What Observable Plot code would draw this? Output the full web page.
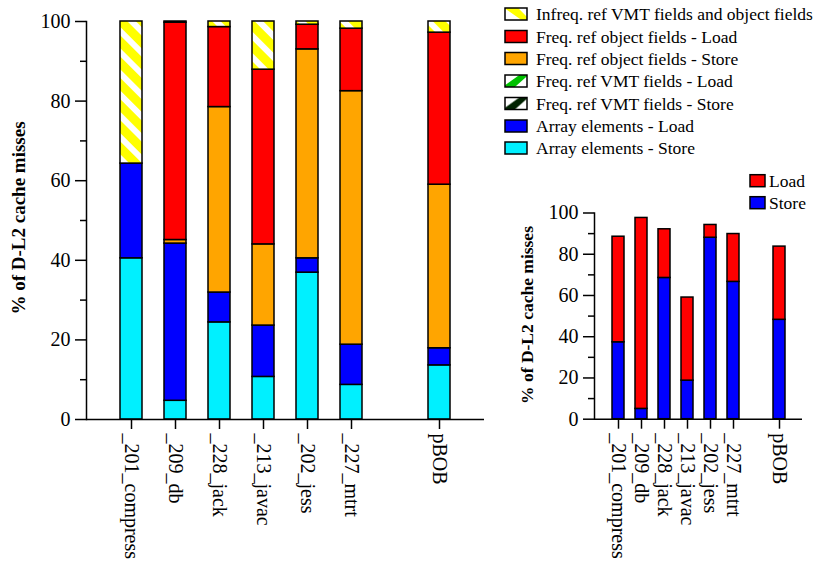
<!DOCTYPE html>
<html><head><meta charset="utf-8">
<script src="https://cdn.jsdelivr.net/npm/d3@7"></script>
<script src="https://cdn.jsdelivr.net/npm/@observablehq/plot@0.6"></script>
<style>
body{margin:0;background:#fff;}
#wrap{position:relative;width:817px;height:564px;overflow:hidden;font-family:"Liberation Serif","Times New Roman",serif;color:#000;}
.abs{position:absolute;}
.ytitle{position:absolute;transform:translate(-50%,-50%) rotate(-90deg);white-space:nowrap;font-weight:bold;}
</style></head><body><div id="wrap"></div>
<script>
// ---- data ----
const benchmarks = ["_201_compress","_209_db","_228_jack","_213_javac","_202_jess","_227_mtrt","pBOB"];
const gapSlot = " ";
// stacking order, bottom to top
const seriesNames = [
  "Array elements - Store",
  "Array elements - Load",
  "Freq. ref VMT fields - Store",
  "Freq. ref VMT fields - Load",
  "Freq. ref object fields - Store",
  "Freq. ref object fields - Load",
  "Infreq. ref VMT fields and object fields"
];
const seriesFills = ["#00f0ff","#0000ff","url(#hatchVmtStore)","url(#hatchVmtLoad)","#ffa500","#ff0000","url(#hatchInfreq)"];
const legendFills = ["#00f0ff","#0000ff","url(#lgVmtStore)","url(#lgVmtLoad)","#ffa500","#ff0000","url(#lgInfreq)"];
const arrayStore  = [40.5, 4.7, 24.4, 10.7, 36.9,  8.7, 13.6];
const arrayLoad   = [23.8, 39.5, 7.5, 12.9,  3.6, 10.1,  4.3];
const vmtStore    = [0, 0, 0, 0, 0, 0, 0];
const vmtLoad     = [0, 0, 0, 0, 0, 0, 0];
const objStore    = [0,  0.9, 46.6, 20.4, 52.5, 63.7, 41.1];
const objLoad     = [0, 54.6, 20.1, 43.9,  6.2, 15.7, 38.2];
const infreq      = [35.7, 0.3, 1.4, 12.1, 0.8, 1.8, 2.8];
const seriesValues = [arrayStore, arrayLoad, vmtStore, vmtLoad, objStore, objLoad, infreq];

const rightSeries = ["Store","Load"];
const rightFills = ["#0000ff","#ff0000"];
const storeVals = [37.3, 5.0, 68.5, 18.7, 88.0, 66.6, 48.2];
const loadVals  = [51.2, 92.6, 23.6, 40.3, 6.2, 23.2, 35.5];

const yTicksMajor = [0,20,40,60,80,100];
const yTicksMinor = [10,30,50,70,90];
const yTitle = "% of D-L2 cache misses";

// ---- build ----
const FONT = '"Liberation Serif","Times New Roman",serif';
const wrap = d3.select("#wrap");

const defs = wrap.append("svg").attr("width",0).attr("height",0)
  .style("position","absolute").append("defs");
function stripe(id, c1, c2, size, w2, angle){
  const p = defs.append("pattern").attr("id",id).attr("patternUnits","userSpaceOnUse")
    .attr("width",size).attr("height",size).attr("patternTransform",`rotate(${angle})`);
  p.append("rect").attr("width",size).attr("height",size).attr("fill",c1);
  p.append("rect").attr("width",w2).attr("height",size).attr("fill",c2);
}
stripe("hatchInfreq","#ffff00","#ffffff",15,6,-45);
stripe("hatchVmtLoad","#00c000","#ffffff",12,6,45);
stripe("hatchVmtStore","#002200","#ffffff",12,6,45);
// legend swatches: one diagonal band each
function swatchPattern(id, c1, c2, pts){
  const p = defs.append("pattern").attr("id",id).attr("patternUnits","objectBoundingBox")
    .attr("patternContentUnits","objectBoundingBox").attr("width",1).attr("height",1);
  p.append("rect").attr("width",1).attr("height",1).attr("fill",c2);
  p.append("polygon").attr("points", pts).attr("fill",c1);
}
swatchPattern("lgInfreq","#ffff00","#ffffff","0,0 0.6,0 1,0.75 1,1 0.75,1 0,0.05");
swatchPattern("lgVmtLoad","#00c000","#ffffff","0,1 0,0.85 0.65,0 1,0 1,0.1 0.45,1");
swatchPattern("lgVmtStore","#002200","#ffffff","0,1 0,0.85 0.65,0 1,0 1,0.1 0.45,1");

const xDomain = [...benchmarks.slice(0,6), gapSlot, benchmarks[6]];

const rows = [];
seriesNames.forEach((s, si) => seriesValues[si].forEach((v, bi) => {
  if (v > 0) rows.push({bench: benchmarks[bi], series: s, value: v});
}));
const rrows = [];
[storeVals, loadVals].forEach((arr, si) => arr.forEach((v, bi) => {
  rrows.push({bench: benchmarks[bi], series: rightSeries[si], value: v});
}));

function makePlot(data, names, fills, opts){
  return Plot.plot({
    width: opts.width, height: 564,
    marginLeft: opts.ml, marginRight: opts.mr, marginTop: opts.mt, marginBottom: opts.mb,
    style: {fontFamily: FONT, fontSize: "20px", background: "transparent", color: "black", overflow: "visible"},
    x: {type: "band", domain: xDomain, paddingInner: 0.5, paddingOuter: 0.75, label: null},
    y: {domain: [0,100], label: null},
    color: {domain: names, range: fills},
    marks: [
      Plot.barY(data, {x: "bench", y: "value", fill: "series", stroke: "black", strokeWidth: 1.5}),
      Plot.axisY({ticks: yTicksMajor, tickSize: 11, tickPadding: 5, strokeWidth: 1.5, label: null}),
      Plot.axisY({ticks: yTicksMinor, tickSize: 6, tickFormat: () => "", strokeWidth: 1.5, label: null}),
      Plot.axisX({ticks: benchmarks, tickSize: 10, tickPadding: 4, tickRotate: 90, strokeWidth: 1.5, label: null}),
      Plot.ruleY([0], {strokeWidth: 1.5}),
      Plot.frame({anchor: "left", strokeWidth: 1.5})
    ]
  });
}

const left = makePlot(rows, seriesNames, seriesFills, {width: 490, ml: 86, mr: 6, mt: 21, mb: 145});
left.style.position = "absolute"; left.style.left = "0px"; left.style.top = "0px";
wrap.node().appendChild(left);

const right = makePlot(rrows, rightSeries, rightFills, {width: 317, ml: 94, mr: 15, mt: 212.5, mb: 145.3});
right.style.position = "absolute"; right.style.left = "500px"; right.style.top = "0px";
wrap.node().appendChild(right);

// titles
wrap.append("div").attr("class","ytitle").style("left","19px").style("top","218px").style("font-size","19px").text(yTitle);
wrap.append("div").attr("class","ytitle").style("left","527px").style("top","315px").style("font-size","17.5px").text(yTitle);

// left legend
const lg = wrap.append("svg").attr("class","abs").style("left","500px").style("top","0px")
  .attr("width",317).attr("height",162);
const legendOrder = seriesNames.map((n,i) => ({name: n, fill: legendFills[i]})).reverse();
const legendY = [14, 36.5, 58.5, 81, 103.5, 126, 148];
legendOrder.forEach((d, i) => {
  lg.append("rect").attr("x",5).attr("y",legendY[i]-6).attr("width",22).attr("height",12)
    .attr("fill",d.fill).attr("stroke","black").attr("stroke-width",1.5);
  lg.append("text").attr("x",36).attr("y",legendY[i]).attr("dy","0.35em")
    .style("font-family",FONT).style("font-size","17.5px").text(d.name);
});

// right legend
const rg = wrap.append("svg").attr("class","abs").style("left","740px").style("top","165px")
  .attr("width",77).attr("height",50);
const rLegend = [{name: rightSeries[1], fill: rightFills[1]}, {name: rightSeries[0], fill: rightFills[0]}];
[15.7, 37.7].forEach((cy, i) => {
  rg.append("rect").attr("x",10).attr("y",cy-6).attr("width",15).attr("height",12)
    .attr("fill",rLegend[i].fill).attr("stroke","black").attr("stroke-width",1.5);
  rg.append("text").attr("x",29).attr("y",cy).attr("dy","0.35em")
    .style("font-family",FONT).style("font-size","17.5px").text(rLegend[i].name);
});
</script></body></html>
